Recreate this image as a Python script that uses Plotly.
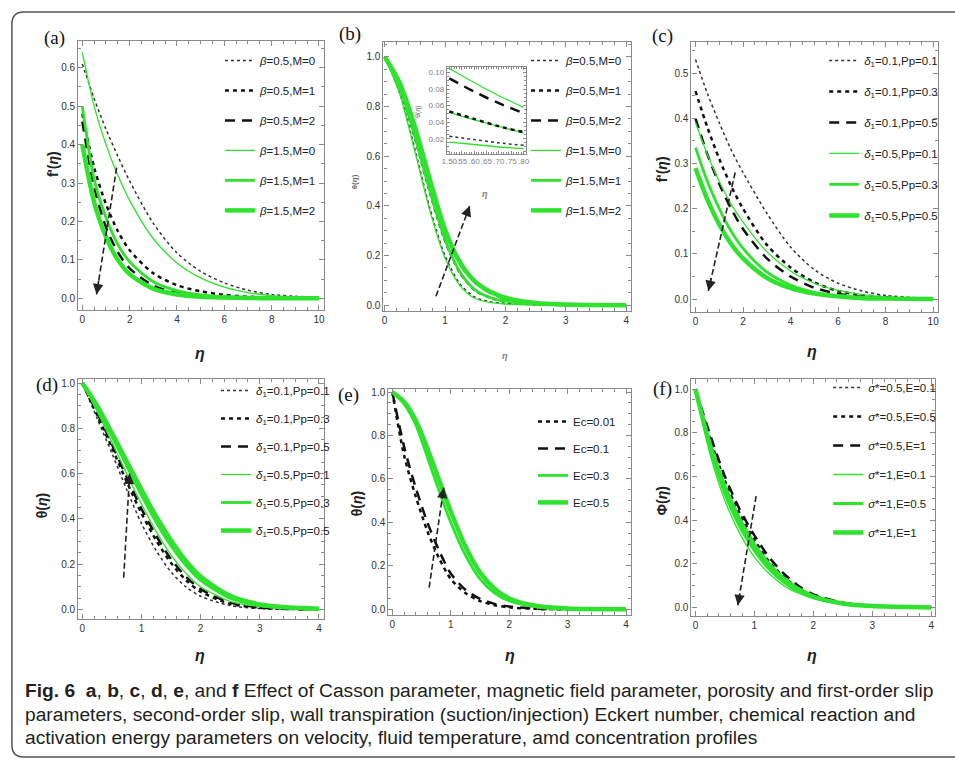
import plotly.graph_objects as go

W, H = 955, 760

# ---------------- data ----------------
# (a) velocity f'(eta): Casson parameter beta and magnetic parameter M
ETA_A = [0, 0.5, 1, 1.5, 2, 3, 4, 5, 6, 7, 8, 10]
A_B05_M0 = [0.61, 0.52, 0.44, 0.37, 0.305, 0.195, 0.118, 0.07, 0.04, 0.021, 0.01, 0.002]
A_B05_M1 = [0.48, 0.34, 0.245, 0.175, 0.125, 0.065, 0.034, 0.018, 0.009, 0.004, 0.002, 0.0]
A_B05_M2 = [0.46, 0.29, 0.185, 0.12, 0.078, 0.033, 0.014, 0.006, 0.003, 0.001, 0.0, 0.0]
A_B15_M0 = [0.64, 0.50, 0.40, 0.32, 0.255, 0.155, 0.092, 0.053, 0.029, 0.015, 0.007, 0.001]
A_B15_M1 = [0.50, 0.31, 0.21, 0.14, 0.095, 0.043, 0.02, 0.009, 0.004, 0.002, 0.001, 0.0]
A_B15_M2 = [0.40, 0.25, 0.16, 0.10, 0.063, 0.025, 0.01, 0.004, 0.002, 0.001, 0.0, 0.0]

# (b) temperature theta(eta): beta and M
ETA_B = [0, 0.25, 0.5, 0.75, 1.0, 1.25, 1.5, 1.75, 2.0, 2.5, 3.0, 4.0]
B_B05_M0 = [1.0, 0.855, 0.63, 0.39, 0.20, 0.085, 0.032, 0.014, 0.007, 0.002, 0.0, 0.0]
B_B05_M1 = [1.0, 0.875, 0.675, 0.455, 0.26, 0.13, 0.06, 0.03, 0.015, 0.004, 0.001, 0.0]
B_B05_M2 = [1.0, 0.89, 0.71, 0.495, 0.295, 0.165, 0.09, 0.05, 0.027, 0.008, 0.002, 0.0]
B_B15_M0 = [1.0, 0.85, 0.62, 0.38, 0.19, 0.078, 0.027, 0.011, 0.005, 0.001, 0.0, 0.0]
B_B15_M1 = [1.0, 0.875, 0.68, 0.46, 0.265, 0.133, 0.062, 0.031, 0.016, 0.004, 0.001, 0.0]
B_B15_M2 = [1.0, 0.895, 0.72, 0.505, 0.305, 0.172, 0.095, 0.054, 0.03, 0.009, 0.003, 0.0]

# (b) inset, eta in [1.5, 1.8]
ETA_IN = [1.5, 1.6, 1.7, 1.8]
IN_B05_M0 = [0.023, 0.019, 0.015, 0.012]
IN_B05_M1 = [0.053, 0.044, 0.035, 0.028]
IN_B05_M2 = [0.093, 0.077, 0.063, 0.051]
IN_B15_M0 = [0.016, 0.013, 0.010, 0.008]
IN_B15_M1 = [0.052, 0.043, 0.035, 0.027]
IN_B15_M2 = [0.105, 0.088, 0.072, 0.058]
IN_XTICKS = [1.50, 1.55, 1.60, 1.65, 1.70, 1.75, 1.80]
IN_XTEXT = ["1.50", ".55", ".60", ".65", ".70", ".75", ".80"]

# (c) velocity f'(eta): first-order slip delta1 and porosity Pp
ETA_C = [0, 0.5, 1, 1.5, 2, 3, 4, 5, 6, 7, 8, 10]
C_D01_P01 = [0.53, 0.455, 0.39, 0.33, 0.28, 0.19, 0.115, 0.065, 0.035, 0.018, 0.008, 0.001]
C_D01_P03 = [0.46, 0.38, 0.31, 0.25, 0.20, 0.12, 0.07, 0.037, 0.018, 0.009, 0.004, 0.0]
C_D01_P05 = [0.40, 0.32, 0.255, 0.20, 0.155, 0.09, 0.05, 0.025, 0.012, 0.005, 0.002, 0.0]
C_D05_P01 = [0.39, 0.32, 0.26, 0.21, 0.17, 0.105, 0.062, 0.035, 0.019, 0.01, 0.005, 0.001]
C_D05_P03 = [0.335, 0.26, 0.20, 0.15, 0.112, 0.06, 0.031, 0.015, 0.007, 0.003, 0.001, 0.0]
C_D05_P05 = [0.29, 0.22, 0.165, 0.122, 0.09, 0.047, 0.024, 0.012, 0.006, 0.002, 0.001, 0.0]

# (d) temperature theta(eta): delta1 and Pp
ETA_D = [0, 0.25, 0.5, 0.75, 1.0, 1.25, 1.5, 1.75, 2.0, 2.5, 3.0, 3.5, 4.0]
D_D01_P01 = [1.0, 0.845, 0.69, 0.53, 0.38, 0.26, 0.165, 0.10, 0.058, 0.017, 0.004, 0.001, 0.0]
D_D01_P03 = [1.0, 0.86, 0.715, 0.565, 0.425, 0.305, 0.205, 0.13, 0.078, 0.025, 0.007, 0.002, 0.0]
D_D01_P05 = [1.0, 0.87, 0.73, 0.585, 0.445, 0.325, 0.222, 0.145, 0.09, 0.03, 0.009, 0.002, 0.0]
D_D05_P01 = [1.0, 0.875, 0.74, 0.60, 0.465, 0.345, 0.24, 0.16, 0.10, 0.036, 0.012, 0.004, 0.001]
D_D05_P03 = [1.0, 0.89, 0.765, 0.635, 0.505, 0.385, 0.28, 0.195, 0.128, 0.05, 0.018, 0.006, 0.002]
D_D05_P05 = [1.0, 0.90, 0.78, 0.655, 0.53, 0.41, 0.305, 0.215, 0.145, 0.06, 0.022, 0.008, 0.003]

# (e) temperature theta(eta): Eckert number Ec
ETA_E = [0, 0.2, 0.4, 0.6, 0.8, 1.0, 1.25, 1.5, 1.75, 2.0, 2.5, 3.0, 4.0]
E_EC001 = [1.0, 0.71, 0.52, 0.36, 0.235, 0.14, 0.075, 0.038, 0.019, 0.009, 0.002, 0.0, 0.0]
E_EC01 = [1.0, 0.75, 0.56, 0.40, 0.27, 0.165, 0.09, 0.048, 0.025, 0.013, 0.003, 0.001, 0.0]
E_EC03 = [1.0, 0.945, 0.85, 0.70, 0.545, 0.40, 0.25, 0.14, 0.075, 0.038, 0.01, 0.003, 0.0]
E_EC05 = [1.0, 0.955, 0.87, 0.74, 0.595, 0.45, 0.29, 0.17, 0.095, 0.05, 0.014, 0.004, 0.0]

# (f) concentration phi(eta): reaction sigma* and activation energy E
ETA_F = [0, 0.25, 0.5, 0.75, 1.0, 1.25, 1.5, 1.75, 2.0, 2.5, 3.0, 4.0]
F_S05_E01 = [1.0, 0.75, 0.56, 0.41, 0.295, 0.20, 0.13, 0.082, 0.05, 0.018, 0.006, 0.0]
F_S05_E05 = [1.0, 0.77, 0.58, 0.43, 0.31, 0.21, 0.14, 0.088, 0.055, 0.02, 0.007, 0.001]
F_S05_E1 = [1.0, 0.79, 0.60, 0.45, 0.33, 0.23, 0.155, 0.098, 0.06, 0.022, 0.008, 0.001]
F_S1_E01 = [1.0, 0.70, 0.49, 0.34, 0.23, 0.155, 0.10, 0.065, 0.04, 0.014, 0.004, 0.0]
F_S1_E05 = [1.0, 0.72, 0.52, 0.37, 0.26, 0.175, 0.115, 0.073, 0.045, 0.016, 0.005, 0.0]
F_S1_E1 = [1.0, 0.74, 0.55, 0.40, 0.285, 0.195, 0.13, 0.083, 0.05, 0.018, 0.006, 0.0]

# trend arrows: (tail_x, tail_y, head_x, head_y) in data units
ARROW_A = (1.45, 0.34, 0.6, 0.01)
ARROW_B = (0.85, 0.036, 1.41, 0.40)
ARROW_C = (1.67, 0.28, 0.54, 0.018)
ARROW_D = (0.70, 0.14, 0.80, 0.60)
ARROW_E = (0.63, 0.10, 0.88, 0.56)
ARROW_F = (1.03, 0.51, 0.72, 0.01)

CAPTION_1 = ("<b>Fig. 6</b>  <b>a</b>, <b>b</b>, <b>c</b>, <b>d</b>, <b>e</b>, and <b>f</b> Effect of Casson parameter, "
             "magnetic field parameter, porosity and first-order slip")
CAPTION_2 = ("parameters, second-order slip, wall transpiration (suction/injection) Eckert number, "
             "chemical reaction and")
CAPTION_3 = "activation energy parameters on velocity, fluid temperature, amd concentration profiles"

# ---------------- styling ----------------
SANS = "Liberation Sans, Arial, sans-serif"
GREEN = "#2ee22e"
AXIS_GRAY = "#8a8a8a"
STYLE = {
    "dot": dict(color="#333333", width=1.5, dash="dot"),
    "short": dict(color="#111111", width=2.5, dash="4px,4px"),
    "long": dict(color="#111111", width=2.5, dash="10px,7px"),
    "g1": dict(color=GREEN, width=1.3),
    "g2": dict(color=GREEN, width=2.8),
    "g3": dict(color=GREEN, width=4.5),
}


def px_x(p):
    return p / W


def px_y(p):
    return 1 - p / H


fig = go.Figure()

# panel boxes in pixels (left, right, top, bottom) and axis settings
PANELS = {
    1: dict(box=(74, 322, 39, 309), xr=[-0.17, 10.21], yr=[-0.031, 0.67], xd=2, xm=0.5, yd=0.1, ym=0.05),
    2: dict(box=(382, 632, 40, 310), xr=[-0.02, 4.08], yr=[-0.024, 1.06], xd=1, xm=0.2, yd=0.2, ym=0.05),
    3: dict(box=(693, 942, 40, 311), xr=[-0.17, 10.21], yr=[-0.029, 0.569], xd=2, xm=0.5, yd=0.1, ym=0.05),
    4: dict(box=(74, 322, 378, 619), xr=[-0.067, 4.085], yr=[-0.044, 1.018], xd=1, xm=0.2, yd=0.2, ym=0.05),
    5: dict(box=(387, 632, 388, 615), xr=[-0.068, 4.085], yr=[-0.028, 1.014], xd=1, xm=0.2, yd=0.2, ym=0.05),
    6: dict(box=(693, 939, 378, 616), xr=[-0.067, 4.067], yr=[-0.041, 1.046], xd=1, xm=0.2, yd=0.2, ym=0.05),
    7: dict(box=(446, 526, 65, 152), xr=[1.49, 1.81], yr=[0.002, 0.107], xd=None, xm=None, yd=0.02, ym=0.005),
}

layout_axes = {}
for i, p in PANELS.items():
    l, r, t, b = p["box"]
    xs = "xaxis" if i == 1 else f"xaxis{i}"
    ys = "yaxis" if i == 1 else f"yaxis{i}"
    xa = "x" if i == 1 else f"x{i}"
    ya = "y" if i == 1 else f"y{i}"
    small = i == 7
    tickfont = dict(family=SANS, size=8 if small else 10, color="#808080" if small else "#333333")
    common = dict(showline=True, linecolor=AXIS_GRAY, linewidth=1.2, mirror="allticks",
                  ticks="inside", ticklen=5 if not small else 3, tickcolor=AXIS_GRAY, tickwidth=1,
                  showgrid=False, zeroline=False, tickfont=tickfont, fixedrange=True)
    xaxis = dict(common, domain=[px_x(l), px_x(r)], range=p["xr"], anchor=ya, tickangle=0)
    if i == 7:
        xaxis.update(tickmode="array", tickvals=IN_XTICKS, ticktext=IN_XTEXT, ticklen=3,
                     minor=dict(ticks="inside", ticklen=2, dtick=0.01, tick0=1.5, tickcolor=AXIS_GRAY))
    else:
        xaxis.update(dtick=p["xd"], tick0=0,
                     minor=dict(ticks="inside", ticklen=3, dtick=p["xm"], tick0=0, tickcolor=AXIS_GRAY))
    yaxis = dict(common, domain=[px_y(b), px_y(t)], range=p["yr"], anchor=xa, dtick=p["yd"], tick0=0,
                 tickformat=".2f" if small else ".1f",
                 minor=dict(ticks="inside", ticklen=2 if small else 3, dtick=p["ym"], tick0=0, tickcolor=AXIS_GRAY))
    layout_axes[xs] = xaxis
    layout_axes[ys] = yaxis


def add_series(panel, x, y, name, style, legend):
    xa = "x" if panel == 1 else f"x{panel}"
    ya = "y" if panel == 1 else f"y{panel}"
    fig.add_trace(go.Scatter(
        x=x, y=y, mode="lines", name=name, xaxis=xa, yaxis=ya,
        line=dict(shape="spline", smoothing=0.8, **STYLE[style]),
        legend=legend, legendgroup=f"{legend}-{name}", showlegend=legend is not None,
    ))


def add_arrow(panel, arrow):
    xa = "x" if panel == 1 else f"x{panel}"
    ya = "y" if panel == 1 else f"y{panel}"
    x0, y0, x1, y1 = arrow
    fig.add_trace(go.Scatter(x=[x0, x1], y=[y0, y1], mode="lines", xaxis=xa, yaxis=ya, showlegend=False,
                             line=dict(color="#222222", width=1.6, dash="6px,3px"), hoverinfo="skip"))
    fig.add_annotation(x=x1, y=y1, ax=x1 - 0.12 * (x1 - x0), ay=y1 - 0.12 * (y1 - y0),
                       xref=xa, yref=ya, axref=xa, ayref=ya, text="", showarrow=True,
                       arrowhead=2, arrowsize=1.3, arrowwidth=1.6, arrowcolor="#222222")


def label(cx, cy, text, size, color="#222222", family=SANS, angle=0, xanchor="center"):
    fig.add_annotation(x=px_x(cx), y=px_y(cy), xref="paper", yref="paper", text=text, showarrow=False,
                       xanchor=xanchor, yanchor="middle", textangle=angle,
                       font=dict(family=family, size=size, color=color))


BETA = "<i>β</i>"
DELTA = "<i>δ</i><sub>1</sub>"
SIGMA = "<i>σ</i>*"

# (a)
add_series(1, ETA_A, A_B05_M0, f"{BETA}=0.5,M=0", "dot", "legend")
add_series(1, ETA_A, A_B05_M1, f"{BETA}=0.5,M=1", "short", "legend")
add_series(1, ETA_A, A_B05_M2, f"{BETA}=0.5,M=2", "long", "legend")
add_series(1, ETA_A, A_B15_M0, f"{BETA}=1.5,M=0", "g1", "legend")
add_series(1, ETA_A, A_B15_M1, f"{BETA}=1.5,M=1", "g2", "legend")
add_series(1, ETA_A, A_B15_M2, f"{BETA}=1.5,M=2", "g3", "legend")
add_arrow(1, ARROW_A)

# (b)
add_series(2, ETA_B, B_B05_M0, f"{BETA}=0.5,M=0", "dot", "legend2")
add_series(2, ETA_B, B_B05_M1, f"{BETA}=0.5,M=1", "short", "legend2")
add_series(2, ETA_B, B_B05_M2, f"{BETA}=0.5,M=2", "long", "legend2")
add_series(2, ETA_B, B_B15_M0, f"{BETA}=1.5,M=0", "g1", "legend2")
add_series(2, ETA_B, B_B15_M1, f"{BETA}=1.5,M=1", "g2", "legend2")
add_series(2, ETA_B, B_B15_M2, f"{BETA}=1.5,M=2", "g3", "legend2")
add_arrow(2, ARROW_B)

# (b) inset
add_series(7, ETA_IN, IN_B05_M0, "in1", "dot", None)
add_series(7, ETA_IN, IN_B15_M0, "in4", "g1", None)
add_series(7, ETA_IN, IN_B15_M1, "in5", "g1", None)
add_series(7, ETA_IN, IN_B05_M1, "in2", "short", None)
add_series(7, ETA_IN, IN_B05_M2, "in3", "long", None)
add_series(7, ETA_IN, IN_B15_M2, "in6", "g1", None)

# (c)
add_series(3, ETA_C, C_D01_P01, f"{DELTA}=0.1,Pp=0.1", "dot", "legend3")
add_series(3, ETA_C, C_D01_P03, f"{DELTA}=0.1,Pp=0.3", "short", "legend3")
add_series(3, ETA_C, C_D01_P05, f"{DELTA}=0.1,Pp=0.5", "long", "legend3")
add_series(3, ETA_C, C_D05_P01, f"{DELTA}=0.5,Pp=0.1", "g1", "legend3")
add_series(3, ETA_C, C_D05_P03, f"{DELTA}=0.5,Pp=0.3", "g2", "legend3")
add_series(3, ETA_C, C_D05_P05, f"{DELTA}=0.5,Pp=0.5", "g3", "legend3")
add_arrow(3, ARROW_C)

# (d)
add_series(4, ETA_D, D_D01_P01, f"{DELTA}=0.1,Pp=0.1", "dot", "legend4")
add_series(4, ETA_D, D_D01_P03, f"{DELTA}=0.1,Pp=0.3", "short", "legend4")
add_series(4, ETA_D, D_D01_P05, f"{DELTA}=0.1,Pp=0.5", "long", "legend4")
add_series(4, ETA_D, D_D05_P01, f"{DELTA}=0.5,Pp=0.1", "g1", "legend4")
add_series(4, ETA_D, D_D05_P03, f"{DELTA}=0.5,Pp=0.3", "g2", "legend4")
add_series(4, ETA_D, D_D05_P05, f"{DELTA}=0.5,Pp=0.5", "g3", "legend4")
add_arrow(4, ARROW_D)

# (e)
add_series(5, ETA_E, E_EC001, "Ec=0.01", "short", "legend5")
add_series(5, ETA_E, E_EC01, "Ec=0.1", "long", "legend5")
add_series(5, ETA_E, E_EC03, "Ec=0.3", "g2", "legend5")
add_series(5, ETA_E, E_EC05, "Ec=0.5", "g3", "legend5")
add_arrow(5, ARROW_E)

# (f)
add_series(6, ETA_F, F_S05_E01, f"{SIGMA}=0.5,E=0.1", "dot", "legend6")
add_series(6, ETA_F, F_S05_E05, f"{SIGMA}=0.5,E=0.5", "short", "legend6")
add_series(6, ETA_F, F_S05_E1, f"{SIGMA}=0.5,E=1", "long", "legend6")
add_series(6, ETA_F, F_S1_E01, f"{SIGMA}=1,E=0.1", "g1", "legend6")
add_series(6, ETA_F, F_S1_E05, f"{SIGMA}=1,E=0.5", "g2", "legend6")
add_series(6, ETA_F, F_S1_E1, f"{SIGMA}=1,E=1", "g3", "legend6")
add_arrow(6, ARROW_F)

# legends: (left px, top px, group gap)
LEG_POS = {"legend": (217, 44, 11), "legend2": (526, 44, 11), "legend3": (827, 44, 12),
           "legend4": (213, 375, 9), "legend5": (533, 406, 8), "legend6": (831, 372, 10)}
legends = {}
for key, (lx, ty, gap) in LEG_POS.items():
    legends[key] = dict(x=px_x(lx), y=px_y(ty), xanchor="left", yanchor="top", xref="paper", yref="paper",
                        bgcolor="rgba(255,255,255,0)", borderwidth=0, tracegroupgap=gap,
                        font=dict(family=SANS, size=11.5, color="#222222"), itemwidth=30)

# panel letters
for lab, (cx, cy) in {"(a)": (50, 36), "(b)": (348, 32), "(c)": (664, 34),
                       "(d)": (42, 384), "(e)": (347, 394), "(f)": (664, 388)}.items():
    label(cx, cy, lab, 19, color="#111111", family="Liberation Serif, serif")

# axis titles
for txt, cx, cy, sz in [("<b>f'(<i>η</i>)</b>", 48, 163, 14), ("<b>θ(<i>η</i>)</b>", 353, 180, 8),
                        ("<b>f'(<i>η</i>)</b>", 663, 168, 14), ("<b>θ(<i>η</i>)</b>", 37, 505, 14),
                        ("<b>θ(<i>η</i>)</b>", 355, 503, 14), ("<b>Φ(<i>η</i>)</b>", 663, 500, 14),
                        ("θ(<i>η</i>)", 417, 110, 7)]:
    label(cx, cy, txt, sz, color="#222222" if sz > 8 else "#666666", angle=-90)
for cx, cy, sz in [(197, 352, 16), (505, 355, 9), (815, 350, 16), (197, 655, 16), (510, 655, 16),
                   (815, 655, 16), (485, 193, 9)]:
    label(cx, cy, "<b><i>η</i></b>", sz, color="#222222" if sz > 12 else "#808080")

# caption
for txt, cy in [(CAPTION_1, 690), (CAPTION_2, 714), (CAPTION_3, 737)]:
    label(18, cy, txt, 19.2, color="#231f20", xanchor="left")


# rounded outer frame (open on the right)
def frame_path():
    l, t, b, rr = 7, 10, 757, 12
    pts = [("M", 962, t), ("L", l + rr, t), ("Q", l, t, l, t + rr), ("L", l, b - rr),
           ("Q", l, b, l + rr, b), ("L", 962, b)]
    parts = []
    for p in pts:
        vals = p[1:]
        coords = [f"{px_x(vals[k]):.5f},{px_y(vals[k + 1]):.5f}" for k in range(0, len(vals), 2)]
        parts.append(p[0] + " ".join(coords))
    return " ".join(parts)


fig.add_shape(type="path", path=frame_path(), xref="paper", yref="paper",
              line=dict(color="#555555", width=1.5))

fig.update_layout(width=W, height=H, margin=dict(l=0, r=0, t=0, b=0),
                  paper_bgcolor="white", plot_bgcolor="white", showlegend=True, **layout_axes, **legends)

fig.write_html("out.html")
